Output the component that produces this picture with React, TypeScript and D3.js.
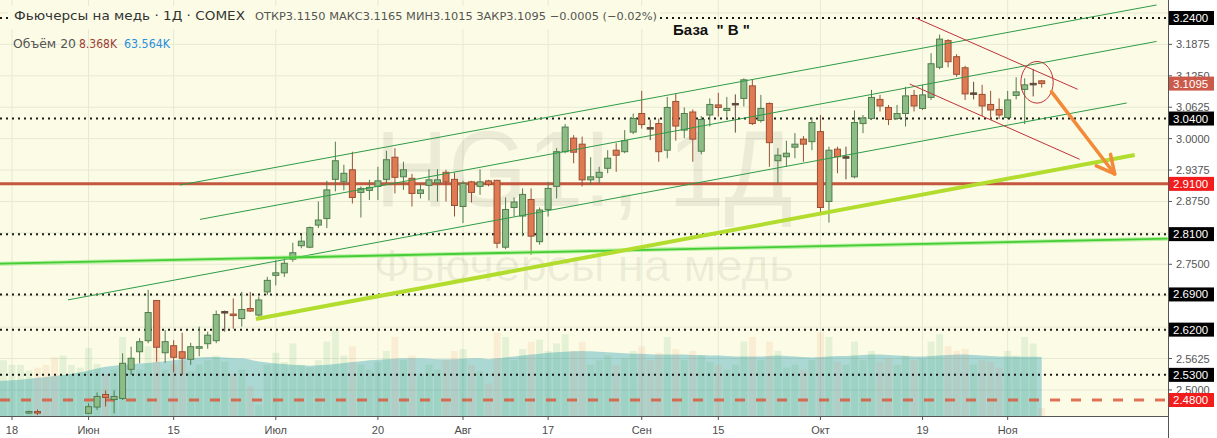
import React from "react";
import * as d3 from "d3";

const W = 1217;
const H = 438;
const PLOT_RIGHT = 1168;
const PLOT_BOTTOM = 416;

// bar index of first element in the arrays below (index 0 = 20 May, last = 119 = 6 Nov)
const FIRST_INDEX = -4;

const opens = [
  2.33, 2.34, 2.35, 2.37,
  2.455, 2.457, 2.43, 2.41, 2.39, 2.41, 2.42, 2.4535, 2.466, 2.491,
  2.481, 2.483, 2.541, 2.576, 2.598, 2.678, 2.574, 2.588, 2.576, 2.561,
  2.584, 2.592, 2.598, 2.655, 2.651, 2.642, 2.662, 2.649, 2.695, 2.728,
  2.733, 2.76, 2.787, 2.784, 2.828, 2.841, 2.919, 2.914, 2.938, 2.893,
  2.897, 2.905, 2.919, 2.963, 2.924, 2.921, 2.891, 2.907, 2.912, 2.933,
  2.919, 2.865, 2.914, 2.905, 2.916, 2.917, 2.784, 2.863, 2.846, 2.879,
  2.795, 2.859, 2.905, 2.974, 3.001, 2.989, 2.918, 2.923, 2.941, 2.977,
  2.974, 3.013, 3.05, 3.022, 3.03, 2.977, 3.074, 3.017, 3.053, 2.975,
  3.047, 3.067, 3.056, 3.07, 3.08, 3.105, 3.036, 3.07, 2.956, 2.964,
  2.983, 2.999, 2.994, 3.014, 2.875, 2.979, 2.964, 2.924, 3.03, 3.04,
  3.078, 3.062, 3.04, 3.05, 3.086, 3.06, 3.082, 3.142, 3.195, 3.163,
  3.141, 3.091, 3.088, 3.068, 3.058, 3.042, 3.086, 3.098, 3.11, 3.115,
];
const highs = [
  2.35, 2.36, 2.38, 2.43,
  2.459, 2.461, 2.435, 2.42, 2.42, 2.43, 2.435, 2.473, 2.495, 2.499,
  2.499, 2.573, 2.586, 2.603, 2.699, 2.679, 2.619, 2.599, 2.614, 2.594,
  2.626, 2.616, 2.658, 2.658, 2.682, 2.695, 2.695, 2.686, 2.725, 2.758,
  2.765, 2.793, 2.808, 2.825, 2.875, 2.916, 2.994, 2.948, 2.974, 2.905,
  2.918, 2.944, 2.976, 2.981, 2.954, 2.93, 2.911, 2.939, 2.939, 2.938,
  2.932, 2.916, 2.916, 2.939, 2.918, 2.918, 2.883, 2.883, 2.901, 2.901,
  2.863, 2.914, 2.981, 3.029, 3.007, 3.004, 2.963, 2.944, 2.977, 2.991,
  3.017, 3.05, 3.095, 3.038, 3.04, 3.083, 3.089, 3.062, 3.058, 3.045,
  3.08, 3.091, 3.083, 3.088, 3.12, 3.118, 3.087, 3.072, 2.981, 2.996,
  3.011, 3.005, 3.042, 3.047, 2.984, 2.984, 2.984, 3.056, 3.047, 3.097,
  3.087, 3.067, 3.067, 3.103, 3.097, 3.107, 3.17, 3.207, 3.198, 3.168,
  3.145, 3.113, 3.107, 3.095, 3.08, 3.095, 3.122, 3.12, 3.138, 3.1165,
];
const lows = [
  2.31, 2.32, 2.34, 2.36,
  2.452, 2.45, 2.4, 2.38, 2.38, 2.4, 2.41, 2.452, 2.46, 2.467,
  2.4535, 2.48, 2.53, 2.553, 2.593, 2.556, 2.554, 2.535, 2.53, 2.55,
  2.567, 2.582, 2.593, 2.616, 2.622, 2.626, 2.655, 2.646, 2.689, 2.708,
  2.725, 2.755, 2.782, 2.782, 2.822, 2.822, 2.895, 2.897, 2.871, 2.843,
  2.878, 2.878, 2.911, 2.891, 2.898, 2.865, 2.881, 2.877, 2.875, 2.875,
  2.845, 2.832, 2.873, 2.888, 2.905, 2.782, 2.78, 2.845, 2.806, 2.769,
  2.789, 2.845, 2.881, 2.971, 2.951, 2.905, 2.908, 2.911, 2.931, 2.934,
  2.971, 3.009, 3.02, 2.997, 2.954, 2.961, 2.996, 3.001, 2.954, 2.969,
  3.024, 3.044, 3.038, 3.012, 3.064, 3.027, 3.032, 2.944, 2.91, 2.944,
  2.961, 2.954, 2.977, 2.853, 2.833, 2.931, 2.919, 2.921, 3.011, 3.037,
  3.054, 3.027, 3.037, 3.024, 3.054, 3.057, 3.077, 3.138, 3.142, 3.123,
  3.077, 3.078, 3.045, 3.039, 3.039, 3.039, 3.078, 3.029, 3.084, 3.1015,
];
const closes = [
  2.34, 2.35, 2.37, 2.42,
  2.457, 2.455, 2.41, 2.39, 2.41, 2.42, 2.43, 2.4667, 2.487, 2.485,
  2.487, 2.553, 2.563, 2.596, 2.654, 2.585, 2.596, 2.565, 2.563, 2.586,
  2.586, 2.609, 2.65, 2.656, 2.649, 2.66, 2.657, 2.679, 2.718, 2.733,
  2.752, 2.773, 2.796, 2.823, 2.838, 2.898, 2.956, 2.931, 2.883, 2.901,
  2.903, 2.916, 2.958, 2.923, 2.938, 2.891, 2.898, 2.918, 2.918, 2.914,
  2.867, 2.911, 2.893, 2.914, 2.909, 2.792, 2.859, 2.874, 2.889, 2.806,
  2.858, 2.901, 2.974, 3.023, 2.973, 2.918, 2.924, 2.933, 2.961, 2.967,
  2.996, 3.04, 3.028, 3.021, 2.974, 3.062, 3.025, 3.05, 2.999, 3.038,
  3.068, 3.062, 3.06, 3.07, 3.117, 3.03, 3.06, 2.992, 2.967, 2.971,
  2.989, 2.989, 3.032, 2.863, 2.977, 2.964, 2.964, 3.032, 3.041, 3.082,
  3.065, 3.038, 3.05, 3.085, 3.065, 3.087, 3.149, 3.198, 3.153, 3.128,
  3.089, 3.091, 3.065, 3.057, 3.047, 3.077, 3.093, 3.107, 3.11, 3.1095,
];
// volume, thousands of contracts
const volumes = [
  58, 60, 55, 55,
  49, 52, 55, 63, 65, 55, 52, 73, 56, 45,
  50, 85, 55, 50, 75, 88, 50, 55, 60, 48,
  55, 60, 65, 58, 45, 50, 32, 12, 55, 68,
  58, 78, 55, 52, 60, 80, 92, 65, 75, 55,
  50, 58, 70, 85, 60, 65, 45, 55, 50, 60,
  70, 72, 55, 48, 35, 90, 85, 60, 72, 80,
  82, 70, 78, 88, 70, 80, 55, 60, 65, 55,
  62, 70, 75, 60, 68, 85, 72, 60, 70, 65,
  58, 55, 50, 55, 80, 85, 60, 80, 70, 52,
  55, 50, 60, 90, 85, 58, 55, 80, 60, 70,
  58, 62, 55, 65, 60, 62, 80, 88, 75, 70,
  72, 55, 60, 58, 52, 70, 65, 85, 78, 8.368,
];
// 20-bar moving average of volume, thousands
const volumeMA = [
  37.5, 38, 38.5, 39,
  40, 41, 42, 43, 44, 45.5, 47, 49, 51, 53,
  54, 55, 56, 56.5, 57, 58, 59, 60, 61, 62,
  63, 63.5, 63.5, 63, 62.5, 62, 60.5, 58.5, 57.5, 56.5,
  56, 55, 54.5, 54, 54.5, 55, 56, 57, 58, 59,
  60, 60.5, 61, 61.5, 62, 62, 62, 61.5, 61, 61,
  61, 61.5, 62, 62, 61, 62, 63, 64, 65, 66,
  67, 68, 68.5, 69, 69.5, 70, 69.5, 69, 68.5, 68,
  67.5, 67, 67, 66.5, 66, 66, 66, 66, 65.5, 65.5,
  65, 65, 64.5, 64, 64, 64, 64, 64.5, 65, 64.5,
  64, 63.5, 63, 63.5, 64, 64.5, 64.5, 65, 65.5, 66,
  66, 65.5, 65, 64.5, 64, 64, 64.5, 65, 65.5, 66,
  66, 65.5, 65, 64.5, 64, 64, 63.8, 63.7, 63.6, 63.564,
];

const timeTickIndex = [-2, 7, 17, 29, 41, 51, 61, 72, 81, 93, 105, 115];
const timeTickLabels = ["18", "Июн", "15", "Июл", "20", "Авг", "17", "Сен", "15", "Окт", "19", "Ноя"];
const priceTicks = [3.25, 3.1875, 3.125, 3.0625, 3.0, 2.9375, 2.875, 2.8125, 2.75, 2.6875, 2.625, 2.5625, 2.5];

const dottedLevels = [3.24, 3.04, 2.81, 2.69, 2.62, 2.53];
const solidLevel = 2.91;
const dashedLevel = 2.48;
const lastClose = 3.1095;
const blackLabelLevels = [3.24, 3.04, 2.81, 2.69, 2.62, 2.53];
const redLabelLevels = [2.91, 2.48];

// drawings, in (bar index, price)
const channelLines = [
  [[17.74, 2.9077], [132.5, 3.2659]],
  [[20.09, 2.8393], [132.5, 3.1934]],
  [[4.58, 2.6792], [128.99, 3.0709]],
];
const longSupport = [[-3.41, 2.7512], [133.8, 2.8009]];
const limeSupport = [[26.67, 2.6411], [129.93, 2.9674]];
const redChannel = [
  [[104.2, 3.24], [123.23, 3.0981]],
  [[103.49, 3.1087], [123.46, 2.9589]],
];
const circleCenter = [118.45, 3.1121];
const circleRadius = [1.9, 0.0414];
const arrowPath = [[120.14, 3.0934], [127.57, 2.9297]];

const fmt = d3.format(".4f");

export default function App() {
  const x = d3.scaleLinear().domain([0, 119]).range([29, 1041.7]);
  const y = d3.scaleLinear().domain([2.48, 3.24]).range([400, 18]);
  const v = d3.scaleLinear().domain([0, 100]).range([PLOT_BOTTOM, 323]);

  const bars = opens.map((o, k) => ({
    i: k + FIRST_INDEX,
    o,
    h: highs[k],
    l: lows[k],
    c: closes[k],
    vol: volumes[k],
    ma: volumeMA[k],
  }));

  const maArea = d3
    .area<any>()
    .x((d) => x(d.i))
    .y0(PLOT_BOTTOM)
    .y1((d) => v(d.ma))
    .curve(d3.curveMonotoneX)(bars) as string;

  const line = d3
    .line<number[]>()
    .x((d) => x(d[0]))
    .y((d) => y(d[1]));

  const upFill = "#8dbd86";
  const upStroke = "#527c4c";
  const dnFill = "#df7a52";
  const dnStroke = "#9a5034";
  const dojiStroke = "#5e4838";

  // price-axis level labels (boxes hide the regular ticks underneath)
  const boxLevels = [...blackLabelLevels, ...redLabelLevels, lastClose];
  const shownTicks = priceTicks.filter(
    (p) => !boxLevels.some((b) => Math.abs(y(b) - y(p)) < 7)
  );

  // arrow
  const a0 = [x(arrowPath[0][0]), y(arrowPath[0][1])];
  const a1 = [x(arrowPath[1][0]), y(arrowPath[1][1])];
  const ang = Math.atan2(a1[1] - a0[1], a1[0] - a0[0]);
  const headLen = 20;
  const head = [ang + Math.PI - 0.5, ang + Math.PI + 0.45].map((t) => [
    a1[0] + headLen * Math.cos(t),
    a1[1] + headLen * Math.sin(t),
  ]);

  const bg = "#fcfce6";
  const grid = "#e6e9d3";

  return (
    <svg
      width={W}
      height={H}
      style={{ position: "absolute", left: 0, top: 0, display: "block" }}
      fontFamily="'Liberation Sans', Arial, sans-serif"
    >
      <defs>
        <clipPath id="plot">
          <rect x={0} y={0} width={PLOT_RIGHT} height={PLOT_BOTTOM} />
        </clipPath>
      </defs>
      <rect x={0} y={0} width={W} height={H} fill="#ffffff" />
      <rect x={0} y={0} width={PLOT_RIGHT} height={PLOT_BOTTOM} fill={bg} />

      <g clipPath="url(#plot)">
        {/* grid */}
        {timeTickIndex.map((t) => (
          <line key={"vg" + t} x1={x(t)} x2={x(t)} y1={0} y2={PLOT_BOTTOM} stroke={grid} strokeWidth={1} />
        ))}
        {priceTicks.map((p) => (
          <line key={"hg" + p} x1={0} x2={PLOT_RIGHT} y1={y(p)} y2={y(p)} stroke={grid} strokeWidth={1} />
        ))}

        {/* watermark */}
        <text
          x={584}
          y={206}
          textAnchor="middle"
          fontSize={108}
          fill="rgba(0,0,0,0.065)"
          textLength={418}
          lengthAdjust="spacingAndGlyphs"
        >
          HG1!, 1Д
        </text>
        <text
          x={584}
          y={281}
          textAnchor="middle"
          fontSize={44}
          fill="rgba(0,0,0,0.065)"
          textLength={420}
          lengthAdjust="spacingAndGlyphs"
        >
          Фьючерсы на медь
        </text>

        {/* volume */}
        <path d={maArea} fill="rgba(0,140,170,0.32)" />
        {bars.map((d) => (
          <rect
            key={"v" + d.i}
            x={x(d.i) - 3.5}
            y={v(d.vol)}
            width={7}
            height={PLOT_BOTTOM - v(d.vol)}
            fill={d.c >= d.o ? "rgba(80,170,90,0.13)" : "rgba(230,130,80,0.12)"}
          />
        ))}

        {/* horizontal levels */}
        {dottedLevels.map((p) => (
          <line
            key={"dl" + p}
            x1={0}
            x2={PLOT_RIGHT}
            y1={y(p)}
            y2={y(p)}
            stroke="#1a1a1a"
            strokeWidth={2}
            strokeDasharray="2 4"
          />
        ))}
        <line x1={0} x2={PLOT_RIGHT} y1={y(solidLevel)} y2={y(solidLevel)} stroke="#c4583e" strokeWidth={3} />
        <line
          x1={0}
          x2={PLOT_RIGHT}
          y1={y(dashedLevel)}
          y2={y(dashedLevel)}
          stroke="#dc5a3e"
          strokeWidth={3}
          strokeDasharray="10 11"
          opacity={0.85}
        />

        {/* candles */}
        {bars.map((d) => {
          const cx = x(d.i);
          const doji = Math.abs(d.c - d.o) < 0.0015;
          const up = d.c >= d.o;
          const stroke = doji ? dojiStroke : up ? upStroke : dnStroke;
          const fill = doji ? dojiStroke : up ? upFill : dnFill;
          const top = y(Math.max(d.o, d.c));
          const bot = y(Math.min(d.o, d.c));
          return (
            <g key={"c" + d.i}>
              <line x1={cx} x2={cx} y1={y(d.h)} y2={y(d.l)} stroke={stroke} strokeWidth={1} />
              <rect
                x={cx - 3}
                y={top}
                width={6}
                height={Math.max(bot - top, 1.5)}
                fill={fill}
                stroke={stroke}
                strokeWidth={1}
              />
            </g>
          );
        })}

        {/* drawings */}
        {channelLines.map((l, k) => (
          <path key={"ch" + k} d={line(l as any) as string} stroke="#2f9a48" strokeWidth={1} fill="none" />
        ))}
        <path d={line(longSupport as any) as string} stroke="#7fe866" strokeWidth={4} opacity={0.55} fill="none" />
        <path d={line(longSupport as any) as string} stroke="#46cc36" strokeWidth={1.8} fill="none" />
        <path d={line(limeSupport as any) as string} stroke="#b2dc2e" strokeWidth={4} fill="none" />
        {redChannel.map((l, k) => (
          <path key={"rc" + k} d={line(l as any) as string} stroke="#c0323a" strokeWidth={1} fill="none" />
        ))}
        <ellipse
          cx={x(circleCenter[0])}
          cy={y(circleCenter[1])}
          rx={x(circleCenter[0] + circleRadius[0]) - x(circleCenter[0])}
          ry={y(circleCenter[1] - circleRadius[1]) - y(circleCenter[1])}
          fill="none"
          stroke="#c0323a"
          strokeWidth={1}
        />
        <line x1={a0[0]} y1={a0[1]} x2={a1[0]} y2={a1[1]} stroke="#f28a3a" strokeWidth={3.5} strokeLinecap="round" />
        {head.map((p, k) => (
          <line
            key={"ah" + k}
            x1={a1[0]}
            y1={a1[1]}
            x2={p[0]}
            y2={p[1]}
            stroke="#f28a3a"
            strokeWidth={3.5}
            strokeLinecap="round"
          />
        ))}

        {/* legend */}
        <rect x={8} y={6} width={652} height={23} fill={bg} />
        <text x={14} y={20} fontSize={13} fill="#333" fontFamily="'DejaVu Sans', sans-serif" textLength={231} lengthAdjust="spacingAndGlyphs">
          Фьючерсы на медь · 1Д · COMEX
        </text>
        <text x={255} y={20} fontSize={11} fill="#555" fontFamily="'DejaVu Sans', sans-serif" textLength={402} lengthAdjust="spacingAndGlyphs">
          ОТКР3.1150 МАКС3.1165 МИН3.1015 ЗАКР3.1095 −0.0005 (−0.02%)
        </text>
        <text x={13} y={48} fontSize={12} fill="#555" fontFamily="'DejaVu Sans', sans-serif" textLength={63} lengthAdjust="spacingAndGlyphs">
          Объём 20
        </text>
        <text x={79} y={48} fontSize={12} fill="#9c3f36" fontFamily="'DejaVu Sans', sans-serif" textLength={38} lengthAdjust="spacingAndGlyphs">
          8.368K
        </text>
        <text x={124} y={48} fontSize={12} fill="#2a8fe0" fontFamily="'DejaVu Sans', sans-serif" textLength={46} lengthAdjust="spacingAndGlyphs">
          63.564K
        </text>
        <text x={673} y={35} fontSize={14} fontWeight="bold" fill="#111" textLength={77} lengthAdjust="spacingAndGlyphs" xmlSpace="preserve">
          База  " В "
        </text>
      </g>

      {/* time axis */}
      <line x1={0} x2={PLOT_RIGHT} y1={PLOT_BOTTOM + 0.5} y2={PLOT_BOTTOM + 0.5} stroke="#555" strokeWidth={1} />
      {timeTickIndex.map((t, k) => (
        <g key={"tt" + t}>
          <line x1={x(t)} x2={x(t)} y1={PLOT_BOTTOM} y2={PLOT_BOTTOM + 4} stroke="#555" strokeWidth={1} />
          <text x={x(t)} y={434} textAnchor="middle" fontSize={11} fill="#4d4d4d">
            {timeTickLabels[k]}
          </text>
        </g>
      ))}

      {/* price axis */}
      <line x1={PLOT_RIGHT + 0.5} x2={PLOT_RIGHT + 0.5} y1={0} y2={H} stroke="#555" strokeWidth={1} />
      {priceTicks.map((p) => (
        <line key={"ptm" + p} x1={PLOT_RIGHT} x2={PLOT_RIGHT + 4} y1={y(p)} y2={y(p)} stroke="#555" strokeWidth={1} />
      ))}
      {shownTicks.map((p) => (
        <text key={"pt" + p} x={1176} y={y(p) + 4} fontSize={11} fill="#555">
          {fmt(p)}
        </text>
      ))}
      {blackLabelLevels.map((p) => (
        <g key={"bl" + p}>
          <rect x={PLOT_RIGHT + 1} y={y(p) - 7} width={45} height={14} fill="#000" />
          <text x={1173} y={y(p) + 4} fontSize={11.5} fill="#fff">
            {fmt(p)}
          </text>
        </g>
      ))}
      {redLabelLevels.map((p) => (
        <g key={"rl" + p}>
          <rect x={PLOT_RIGHT + 1} y={y(p) - 7} width={45} height={14} fill="#f21c1c" />
          <text x={1173} y={y(p) + 4} fontSize={11.5} fill="#fff">
            {fmt(p)}
          </text>
        </g>
      ))}
      <rect x={PLOT_RIGHT + 1} y={y(lastClose) - 7} width={45} height={14} fill="#cc5a4a" />
      <text x={1173} y={y(lastClose) + 4} fontSize={11.5} fill="#fff">
        {fmt(lastClose)}
      </text>
    </svg>
  );
}
